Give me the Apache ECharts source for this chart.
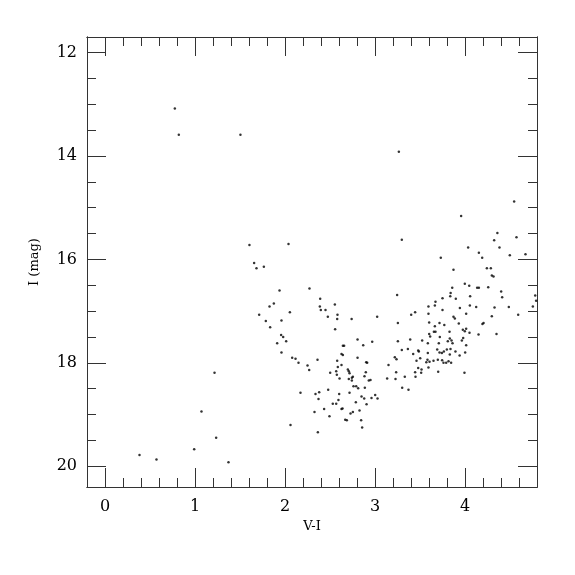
<!DOCTYPE html>
<html>
<head>
<meta charset="utf-8">
<script src="https://cdn.jsdelivr.net/npm/echarts@6/dist/echarts.min.js"></script>
<style>html,body{margin:0;padding:0;background:#fff}#c{width:575px;height:575px}</style>
</head>
<body>
<div id="c"></div>
<script>
// V-I colour index of each star
const colorVI = [
0.776,0.82,1.505,3.265,4.546,3.957,3.298,4.36,4.572,4.324,4.383,4.035,4.672,4.498,4.154,4.191,3.731,1.605,2.039,1.657,
1.683,1.765,3.872,4.243,4.287,4.298,4.317,3.998,4.047,3.858,4.135,4.154,4.258,3.840,3.836,3.75,3.898,4.057,4.402,4.413,
4.78,4.79,4.754,4.487,4.328,4.124,4.054,3.943,4.591,4.298,4.206,4.194,4.35,3.672,3.665,3.594,3.446,3.402,3.594,3.75,
3.872,3.887,3.931,4.013,3.77,3.665,3.602,3.717,3.672,3.654,3.602,3.613,3.720,3.828,3.831,3.85,3.809,3.861,3.976,4.013,
3.998,3.98,4.05,4.013,3.965,3.709,3.524,3.587,3.691,3.717,3.743,3.765,3.798,3.839,3.894,3.94,4.002,3.831,3.817,3.761,
3.791,3.846,3.746,3.698,3.65,3.587,3.583,3.606,3.594,3.57,3.487,3.48,3.424,3.502,3.461,3.48,3.517,3.513,3.446,3.45,
3.702,3.994,3.391,3.365,3.298,3.254,3.254,3.246,3.22,3.239,3.15,3.235,3.228,3.331,3.135,3.302,3.372,3.024,2.969,2.272,
2.391,2.387,2.398,2.45,2.554,2.583,2.58,2.476,2.74,2.557,2.806,2.869,2.643,2.657,2.628,2.643,2.58,2.628,2.587,2.569,
2.502,2.576,2.606,2.698,2.709,2.717,2.709,2.743,2.754,2.743,2.806,2.902,2.913,2.898,2.883,2.931,2.95,2.761,2.791,2.813,
2.887,2.717,2.602,2.48,2.339,2.380,2.372,2.594,2.569,2.531,2.85,2.88,2.906,2.961,3.002,3.028,2.787,2.639,2.628,2.435,
2.328,2.494,2.669,2.687,2.754,2.728,2.828,2.846,2.857,2.365,2.361,2.25,2.269,2.172,2.061,1.939,1.876,1.828,1.713,2.054,
1.961,1.787,1.835,1.957,1.98,2.013,1.913,1.961,2.08,2.117,2.15,1.217,1.072,1.235,0.991,0.383,0.572,1.372,4.150
];
// I magnitude of each star
const iMag = [
13.08,13.59,13.59,13.92,14.88,15.16,15.62,15.49,15.57,15.63,15.77,15.77,15.90,15.92,15.87,15.97,15.97,15.72,15.70,16.07,
16.17,16.14,16.20,16.17,16.17,16.31,16.33,16.47,16.51,16.55,16.55,16.55,16.54,16.65,16.71,16.75,16.76,16.71,16.62,16.73,
16.70,16.80,16.91,16.92,16.93,16.92,16.89,16.94,17.07,17.10,17.23,17.25,17.44,16.82,16.89,16.91,17.02,17.07,17.05,16.98,
17.11,17.14,17.24,17.05,17.27,17.29,17.22,17.23,17.40,17.40,17.44,17.49,17.50,17.40,17.53,17.57,17.58,17.62,17.36,17.34,
17.39,17.52,17.42,17.66,17.57,17.62,17.57,17.62,17.74,17.80,17.81,17.78,17.74,17.73,17.78,17.86,17.80,17.84,17.97,18.00,
18.00,18.00,17.95,17.94,17.96,17.81,17.94,17.98,18.09,17.99,17.78,17.76,17.83,17.91,17.96,18.10,18.13,18.19,18.18,18.27,
18.17,18.19,17.55,17.73,17.75,17.58,17.23,16.69,17.89,17.93,18.04,18.18,18.31,18.27,18.30,18.48,18.52,17.11,17.59,16.56,
16.76,16.91,16.98,16.98,16.87,17.07,17.15,17.11,17.15,17.35,17.55,17.66,17.67,17.67,17.83,17.85,17.96,18.04,18.08,18.16,
18.19,18.23,18.30,18.13,18.16,18.20,18.31,18.29,18.27,18.34,17.90,17.99,18.00,18.18,18.26,18.34,18.33,18.45,18.45,18.49,
18.48,18.58,18.60,18.52,18.60,18.57,18.70,18.72,18.79,18.79,18.65,18.69,18.80,18.68,18.62,18.69,18.76,18.88,18.89,18.89,
18.95,19.03,19.10,19.11,18.95,18.98,18.92,19.11,19.25,19.34,17.94,18.05,18.14,18.58,19.20,16.60,16.85,16.91,17.07,17.02,
17.18,17.19,17.31,17.46,17.50,17.58,17.62,17.80,17.90,17.92,18.00,18.19,18.94,19.45,19.67,19.78,19.87,19.92,17.45
];
const xMajorTicks = [0, 1, 2, 3, 4];
const xMinorTicks = [-0.2,0.2,0.4,0.6,0.8,1.2,1.4,1.6,1.8,2.2,2.4,2.6,2.8,3.2,3.4,3.6,3.8,4.2,4.4,4.6];
const yMajorTicks = [12, 14, 16, 18, 20];
const yMinorTicks = [12.5,13,13.5,14.5,15,15.5,16.5,17,17.5,18.5,19,19.5];
const xRange = [-0.2, 4.8];
const yRange = [11.7, 20.4];

const points = colorVI.map((v, i) => [v, iMag[i]]);
const LINE = '#333';
const FONT = 'DejaVu Serif';

function xAx(pos, ticks, len, labels, extra) {
  return Object.assign({
    type: 'value', position: pos, min: xRange[0], max: xRange[1],
    axisLine: { show: true, onZero: false, lineStyle: { color: LINE, width: 1 } },
    axisTick: { show: true, inside: true, length: len, customValues: ticks, lineStyle: { color: LINE, width: 1 } },
    axisLabel: labels ? { show: true, customValues: ticks, margin: 12, color: '#000', fontFamily: FONT, fontSize: 16 } : { show: false },
    splitLine: { show: false }
  }, extra || {});
}
function yAx(pos, ticks, len, labels, extra) {
  return Object.assign({
    type: 'value', position: pos, min: yRange[0], max: yRange[1], inverse: true,
    axisLine: { show: true, onZero: false, lineStyle: { color: LINE, width: 1 } },
    axisTick: { show: true, inside: true, length: len, customValues: ticks, lineStyle: { color: LINE, width: 1 } },
    axisLabel: labels ? { show: true, customValues: ticks, margin: 10, color: '#000', fontFamily: FONT, fontSize: 16 } : { show: false },
    splitLine: { show: false }
  }, extra || {});
}

const chart = echarts.init(document.getElementById('c'), null, { renderer: 'canvas' });
chart.setOption({
  animation: false,
  backgroundColor: '#fff',
  grid: { left: 87, right: 38, top: 37, bottom: 88, containLabel: false },
  xAxis: [
    xAx('bottom', xMajorTicks, 19, true, { name: 'V-I', nameLocation: 'middle', nameGap: 32,
      nameTextStyle: { fontFamily: FONT, fontSize: 13, color: '#000' } }),
    xAx('bottom', xMinorTicks, 9, false),
    xAx('top', xMajorTicks, 19, false),
    xAx('top', xMinorTicks, 9, false)
  ],
  yAxis: [
    yAx('left', yMajorTicks, 19, true, { name: 'I (mag)', nameLocation: 'middle', nameGap: 46, nameRotate: 90,
      nameTextStyle: { fontFamily: FONT, fontSize: 13, color: '#000' } }),
    yAx('left', yMinorTicks, 9, false),
    yAx('right', yMajorTicks, 19, false),
    yAx('right', yMinorTicks, 9, false)
  ],
  series: [{
    type: 'scatter', xAxisIndex: 0, yAxisIndex: 0,
    data: points, symbol: 'circle', symbolSize: 2.5,
    itemStyle: { color: '#000' }, silent: true
  }]
});
</script>
</body>
</html>
